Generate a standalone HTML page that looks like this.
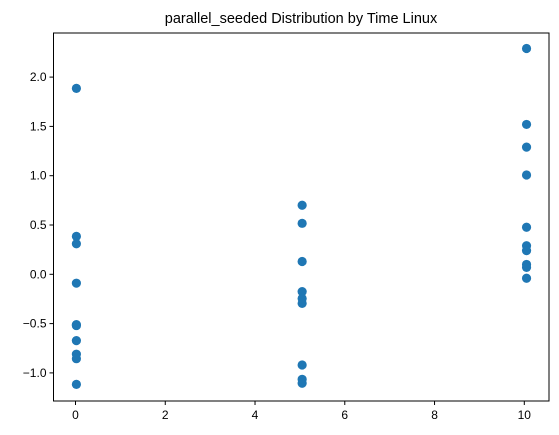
<!DOCTYPE html>
<html><head><meta charset="utf-8"><style>
html,body{margin:0;padding:0;background:#fff;}
svg{display:block;font-family:"Liberation Sans","DejaVu Sans",sans-serif;}
</style></head><body>
<svg id="chart" width="559" height="435">
<text x="301" y="23" text-anchor="middle" font-size="14.5" fill="#000">parallel_seeded Distribution by Time Linux</text>
<g id="points"></g>
<g id="axes"></g>
</svg>
<script>
const xTicks = [0, 2, 4, 6, 8, 10];
const yTicks = [-1.0, -0.5, 0.0, 0.5, 1.0, 1.5, 2.0];
const group0X = 0.02;
const group0Y = [1.886, 0.385, 0.31, -0.09, -0.51, -0.52, -0.673, -0.81, -0.856, -1.116];
const group5X = 5.05;
const group5Y = [0.70, 0.517, 0.13, -0.176, -0.245, -0.295, -0.92, -1.065, -1.105];
const group10X = 10.05;
const group10Y = [2.29, 1.52, 1.29, 1.007, 0.477, 0.29, 0.24, 0.10, 0.07, -0.04];

const L = 53.5, R = 549, T = 33, B = 401;
function xs(v){ return 75.5 + 44.88 * v; }
function ys(v){ return 274.3 - 98.6 * v; }
const NS = "http://www.w3.org/2000/svg";
const pts = document.getElementById('points');
const axes = document.getElementById('axes');
function mk(tag, attrs, parent){
  const e = document.createElementNS(NS, tag);
  for (const k in attrs) e.setAttribute(k, attrs[k]);
  parent.appendChild(e);
  return e;
}
[[group0X, group0Y], [group5X, group5Y], [group10X, group10Y]].forEach(([gx, arr]) => {
  arr.forEach(v => {
    const c = mk('circle', {cx: xs(gx), cy: ys(v), r: 4.6, fill: '#1f77b4'}, pts);
    
    
  });
});
const frame = mk('rect', {x: L, y: T, width: R - L, height: B - T, fill: 'none', stroke: '#000', 'stroke-width': 1}, axes);


xTicks.forEach(t => {
  const x = xs(t);
  const tk = mk('line', {x1: x, x2: x, y1: B, y2: B + 4, stroke: '#000'}, axes);
  
  
  const tx = mk('text', {x: x, y: B + 18, 'text-anchor': 'middle', 'font-size': 12, fill: '#000'}, axes);
  tx.textContent = String(t);
  
  
});
yTicks.forEach(t => {
  const y = ys(t);
  const tk = mk('line', {x1: L - 4, x2: L, y1: y, y2: y, stroke: '#000'}, axes);
  
  
  const tx = mk('text', {x: L - 7, y: y + 4, 'text-anchor': 'end', 'font-size': 12, fill: '#000'}, axes);
  tx.textContent = (t < 0 ? '\u2212' : '') + Math.abs(t).toFixed(1);
  
  
});
</script>
</body></html>
